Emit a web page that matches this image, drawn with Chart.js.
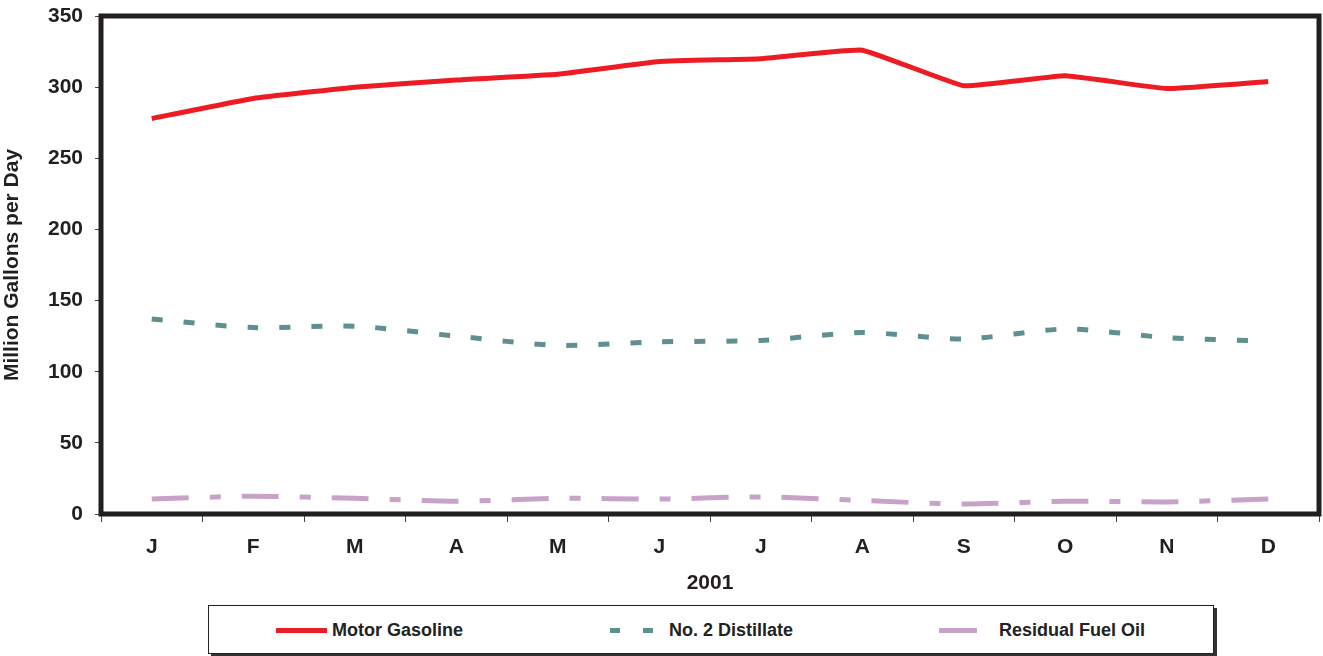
<!DOCTYPE html>
<html>
<head>
<meta charset="utf-8">
<script src="https://cdn.jsdelivr.net/npm/chart.js@4.4.1/dist/chart.umd.min.js"></script>
<style>
body{margin:0;background:#fff;font-family:"Liberation Sans",Arial,sans-serif}
#wrap{position:relative;width:1323px;height:656px}
#chart{position:absolute;left:0;top:0}
#legend{position:absolute;left:208px;top:605px;width:1004px;height:47px;border:1px solid #222;background:#fff;box-shadow:3px 3px 0 #333;font-weight:bold;font-size:18px;color:#222}
.item{position:absolute;top:1px;height:47px;line-height:47px}
.sw{position:absolute;top:22px;height:5px}
</style>
</head>
<body>
<div id="wrap">
<canvas id="chart" width="1323" height="600"></canvas>
<div id="legend">
<div class="sw" style="left:67px;width:51px;background:#ed1c24"></div>
<div class="item" style="left:123px">Motor Gasoline</div>
<div class="sw" style="left:401px;width:10px;background:#5f8f8f"></div>
<div class="sw" style="left:434px;width:10px;background:#5f8f8f"></div>
<div class="item" style="left:460px">No. 2 Distillate</div>
<div class="sw" style="left:730px;width:38px;background:#c8a2c8"></div>
<div class="item" style="left:790px">Residual Fuel Oil</div>
</div>
</div>
<script>
const months=["J","F","M","A","M","J","J","A","S","O","N","D"]
const gasoline=[278,292,300,305,309,318,320,326,301,308,299,304]
const distillate=[137,131,132,125,118.5,121,122,127.5,123,130,124,121.5]
const residual=[10.5,12.5,11,9,11,10.5,12,9.5,7,9,8.5,10.5]
const yTicks=[0,50,100,150,200,250,300,350]

const frame={
id:"frame",
afterDraw(chart){
let a=chart.chartArea
let c=chart.ctx
c.save()
c.strokeStyle="#231f20"
c.lineWidth=5
c.strokeRect(a.left,a.top,a.right-a.left,a.bottom-a.top)
c.restore()
}
}

const fnt={family:"Liberation Sans, Arial",size:21,weight:"bold"}

new Chart(document.getElementById("chart"),{
type:"line",
data:{
labels:months,
datasets:[
{label:"Motor Gasoline",data:gasoline,borderColor:"#ed1c24",borderWidth:5,pointRadius:0,tension:0.1,borderCapStyle:"butt"},
{label:"No. 2 Distillate",data:distillate,borderColor:"#5f8f8f",borderWidth:5,borderDash:[11,21],pointRadius:0,tension:0.25,borderCapStyle:"butt"},
{label:"Residual Fuel Oil",data:residual,borderColor:"#c8a2c8",borderWidth:5,borderDash:[37,21,11,21],pointRadius:0,tension:0.25,borderCapStyle:"butt"}
]
},
options:{
responsive:false,
animation:false,
layout:{padding:{top:16,right:4,left:0,bottom:0}},
plugins:{legend:{display:false},tooltip:{enabled:false}},
scales:{
x:{
offset:true,
grid:{display:true,offset:true,drawOnChartArea:false,drawTicks:true,tickLength:8,color:"#444",lineWidth:1},
border:{display:false},
ticks:{font:fnt,color:"#231f20",padding:13},
title:{display:true,text:"2001",font:fnt,color:"#231f20",padding:{top:0}},
afterFit(s){s.height=86;s.paddingLeft=0;s.paddingRight=0}
},
y:{
min:0,max:350,
afterBuildTicks(s){s.ticks=yTicks.map(v=>({value:v}))},
grid:{display:true,drawOnChartArea:false,drawTicks:true,tickLength:6,color:"#444",lineWidth:1},
border:{display:false},
ticks:{font:fnt,color:"#231f20",padding:12},
title:{display:true,text:"Million Gallons per Day",font:{family:"Liberation Sans, Arial",size:21,weight:"bold"},color:"#231f20",padding:{top:0,bottom:0}},
afterFit(s){s.width=101;s.paddingTop=0;s.paddingBottom=0}
}
}
},
plugins:[frame]
})
</script>
</body>
</html>
